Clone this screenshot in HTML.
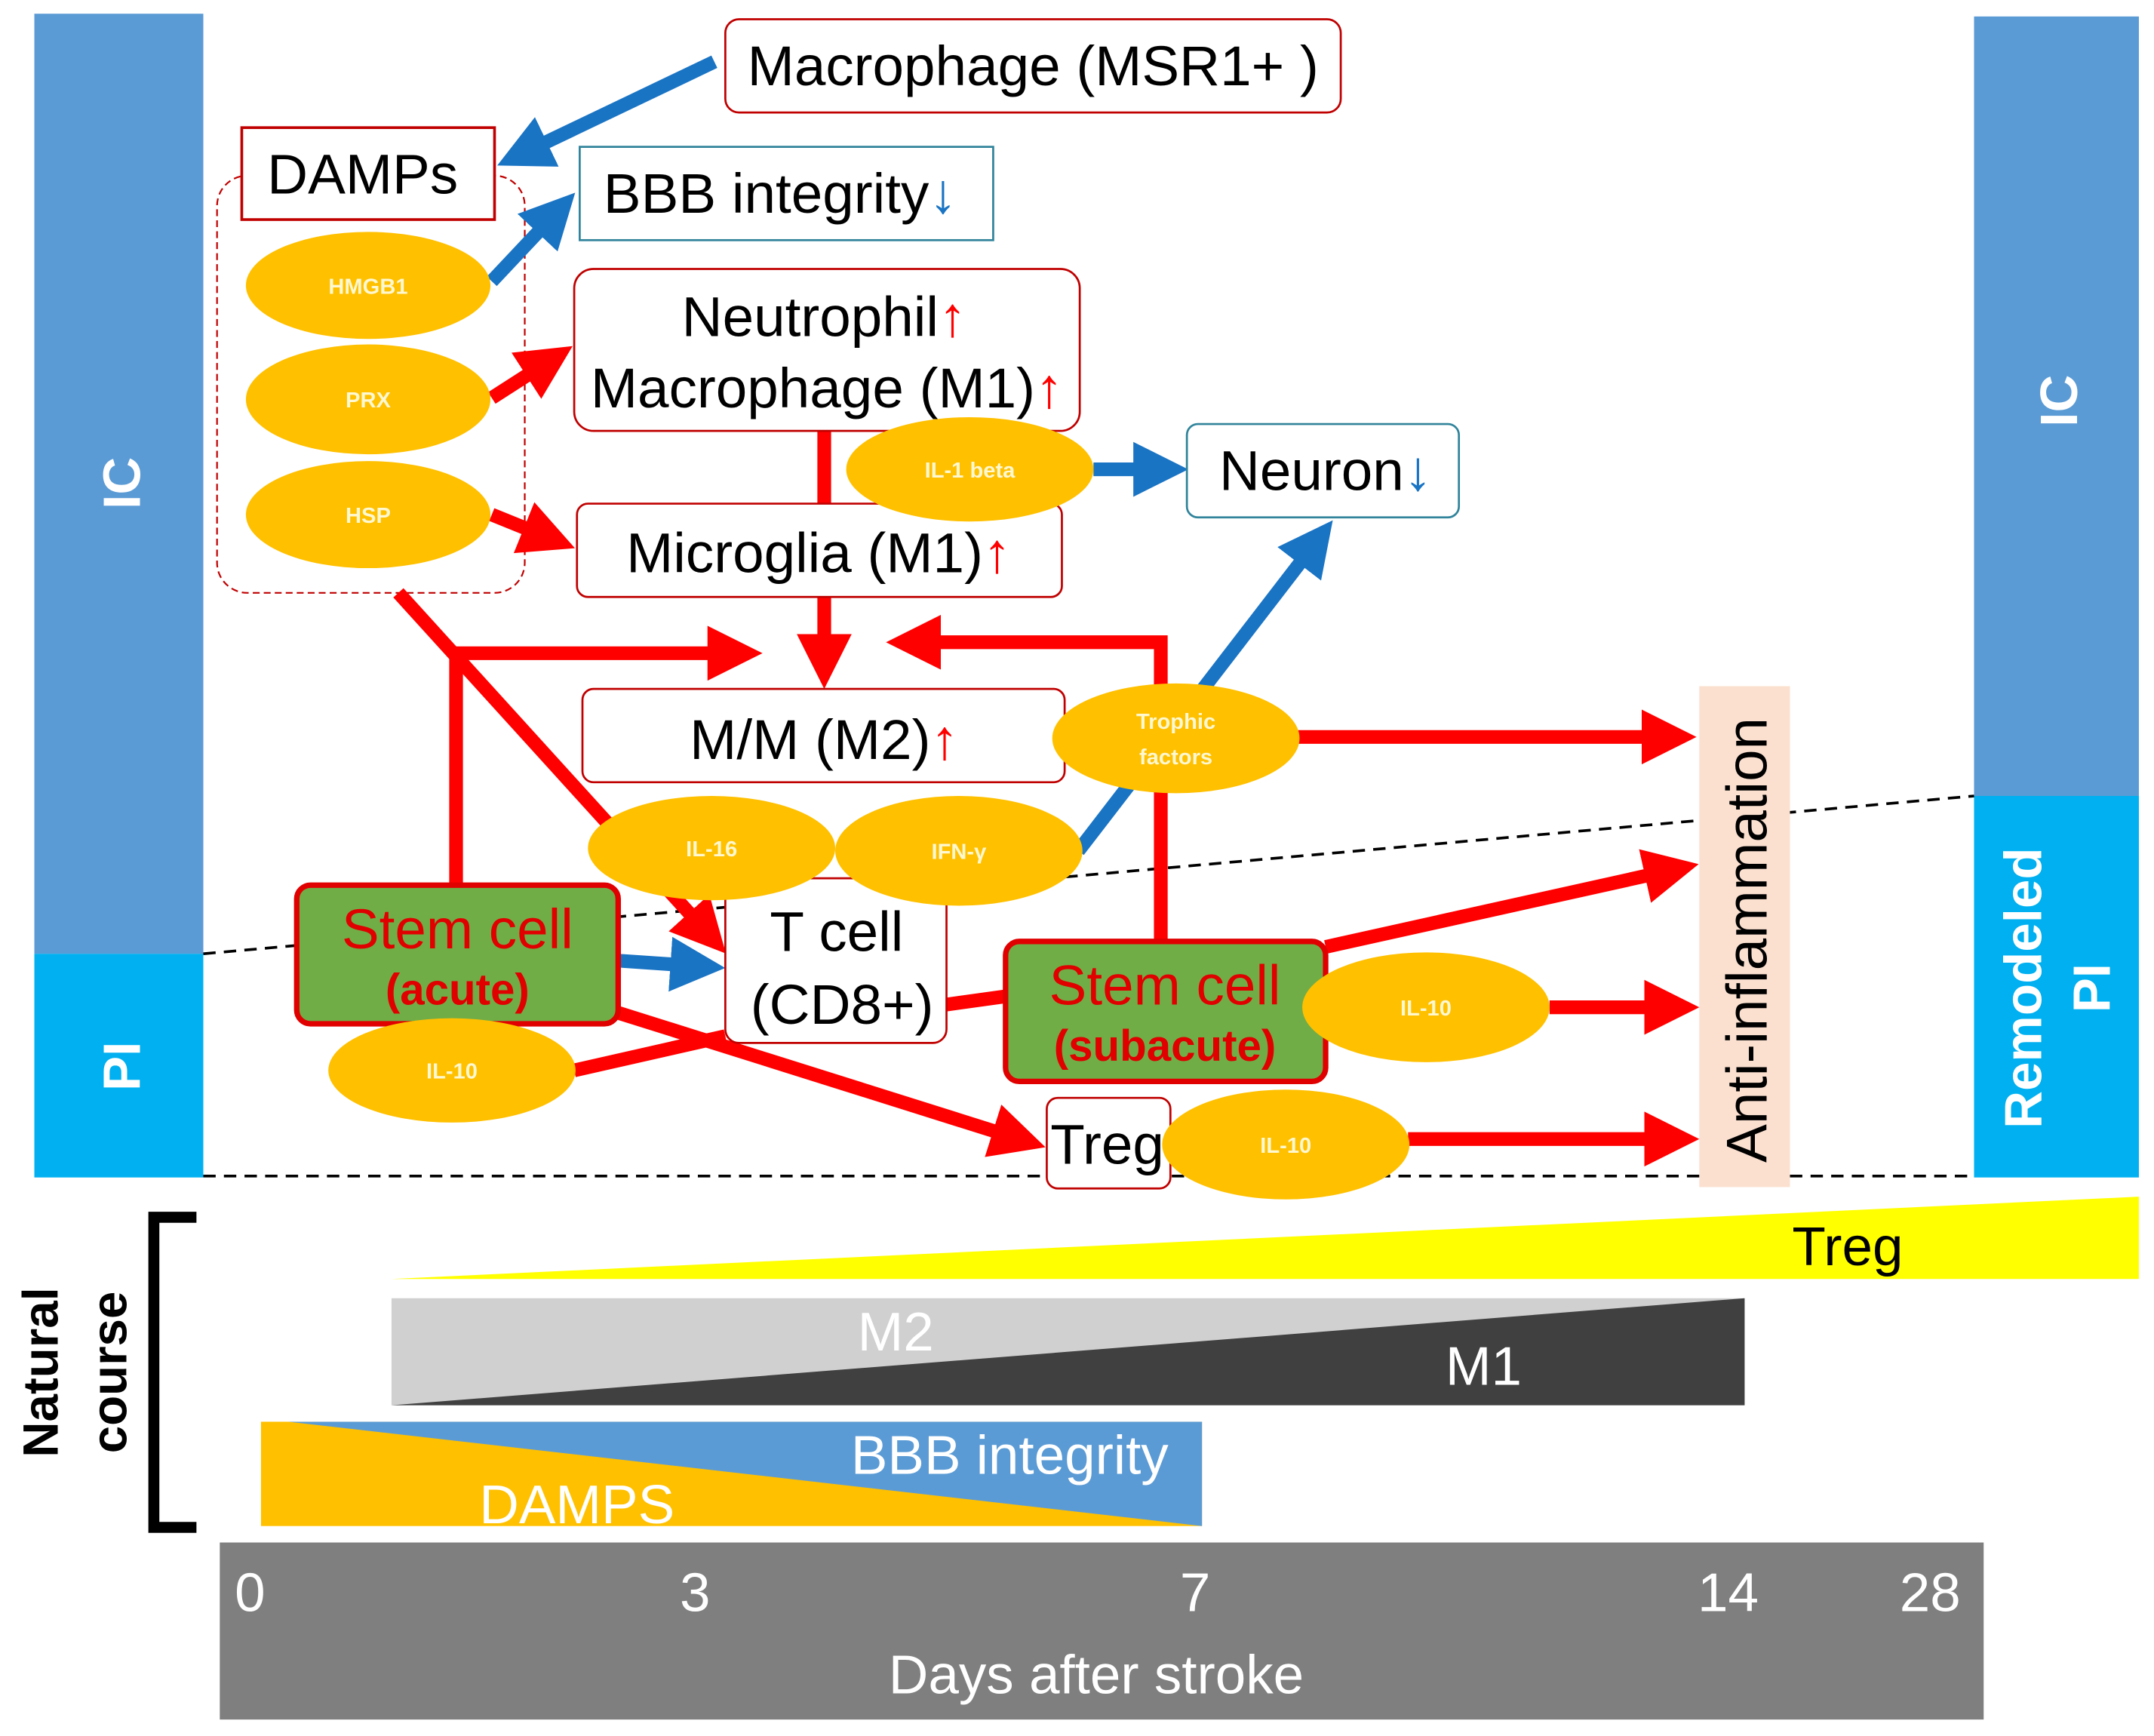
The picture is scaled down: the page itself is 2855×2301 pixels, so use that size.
<!DOCTYPE html>
<html><head><meta charset="utf-8"><style>html,body{margin:0;padding:0;background:#fff}svg{display:block}</style></head>
<body>
<svg width="2855" height="2301" viewBox="0 0 1568 1265" preserveAspectRatio="none" xmlns="http://www.w3.org/2000/svg" font-family="Liberation Sans, sans-serif">
<defs>
<marker id="rh" markerWidth="4" markerHeight="4" refX="2" refY="2" orient="auto" markerUnits="strokeWidth"><path d="M0,0 L4,2 L0,4 z" fill="#ff0000"/></marker>
<marker id="bh" markerWidth="4" markerHeight="4" refX="2" refY="2" orient="auto" markerUnits="strokeWidth"><path d="M0,0 L4,2 L0,4 z" fill="#1a74c4"/></marker>
</defs>
<rect x="25" y="10" width="123" height="685" fill="#5b9bd5"/>
<rect x="25" y="695" width="123" height="163" fill="#00b0f0"/>
<rect x="1437" y="12" width="120" height="568" fill="#5b9bd5"/>
<rect x="1437" y="580" width="120" height="278" fill="#00b0f0"/>
<text transform="translate(102,352) rotate(-90)" fill="#fff" font-size="38" font-weight="bold" text-anchor="middle">IC</text>
<text transform="translate(102,777) rotate(-90)" fill="#fff" font-size="38" font-weight="bold" text-anchor="middle">PI</text>
<text transform="translate(1512,292) rotate(-90)" fill="#fff" font-size="38" font-weight="bold" text-anchor="middle">IC</text>
<text transform="translate(1486,720) rotate(-90)" fill="#fff" font-size="38" font-weight="bold" text-anchor="middle">Remodeled</text>
<text transform="translate(1536,720) rotate(-90)" fill="#fff" font-size="38" font-weight="bold" text-anchor="middle">PI</text>
<line x1="148" y1="857" x2="1437" y2="857" stroke="#000" stroke-width="2" stroke-dasharray="9,6"/>
<line x1="148" y1="695" x2="1437" y2="580" stroke="#000" stroke-width="2" stroke-dasharray="9,6"/>
<rect x="158" y="128" width="224" height="304" rx="22" fill="none" stroke="#c00000" stroke-width="1.2" stroke-dasharray="5,3"/>
<rect x="1237" y="500" width="66" height="365" fill="#fbe0d0"/>
<text transform="translate(1286,685) rotate(-90)" font-size="42" text-anchor="middle">Anti-inflammation</text>
<g stroke="#ff0000" stroke-width="10" fill="none">
<line x1="600" y1="314" x2="600" y2="367"/>
<line x1="600" y1="435" x2="600" y2="482" marker-end="url(#rh)"/>
<line x1="290" y1="432" x2="515" y2="680" marker-end="url(#rh)"/>
<polyline points="332,645 332,476 535,476" marker-end="url(#rh)"/>
<polyline points="845,690 845,468 665,468" marker-end="url(#rh)"/>
<line x1="945" y1="537" x2="1215" y2="537" marker-end="url(#rh)"/>
<line x1="450" y1="738" x2="742" y2="830" marker-end="url(#rh)"/>
<polyline points="418,780 528,755"/>
<line x1="689" y1="732" x2="732" y2="726"/>
<line x1="965" y1="690" x2="1217" y2="634" marker-end="url(#rh)"/>
<line x1="1128" y1="734" x2="1217" y2="734" marker-end="url(#rh)"/>
<line x1="1025" y1="830" x2="1217" y2="830" marker-end="url(#rh)"/>
<line x1="358" y1="290" x2="400" y2="263" marker-end="url(#rh)"/>
<line x1="358" y1="375" x2="400" y2="392" marker-end="url(#rh)"/>
</g>
<g stroke="#1a74c4" stroke-width="10" fill="none">
<line x1="520" y1="45" x2="380" y2="112" marker-end="url(#bh)"/>
<line x1="358" y1="205" x2="405" y2="155" marker-end="url(#bh)"/>
<line x1="796" y1="342" x2="845" y2="342" marker-end="url(#bh)"/>
<line x1="785" y1="620" x2="958" y2="395" marker-end="url(#bh)"/>
<line x1="450" y1="700" x2="508" y2="704" marker-end="url(#bh)"/>
</g>
<g fill="#fff" stroke-width="1.5">
<rect x="528" y="14" width="448" height="68" rx="10" stroke="#c00000"/>
<rect x="176" y="93" width="184" height="67" stroke="#c00000" stroke-width="2"/>
<rect x="422" y="107" width="301" height="68" stroke="#31849b"/>
<rect x="418" y="196" width="368" height="118" rx="14" stroke="#c00000"/>
<rect x="420" y="367" width="353" height="68" rx="8" stroke="#c00000"/>
<rect x="864" y="309" width="198" height="68" rx="8" stroke="#31849b"/>
<rect x="424" y="502" width="351" height="68" rx="8" stroke="#c00000"/>
<rect x="528" y="640" width="161" height="120" rx="10" stroke="#c00000"/>
<rect x="762" y="800" width="90" height="66" rx="8" stroke="#c00000"/>
</g>
<rect x="216" y="645" width="234" height="101" rx="10" fill="#70ad47" stroke="#e00000" stroke-width="4"/>
<rect x="732" y="686" width="233" height="102" rx="10" fill="#70ad47" stroke="#e00000" stroke-width="4"/>
<g font-size="41" text-anchor="middle">
<text x="752" y="62">Macrophage (MSR1+ )</text>
<text x="264" y="141">DAMPs</text>
<text x="568" y="155">BBB integrity<tspan fill="#1a74c4">↓</tspan></text>
<text x="600" y="245">Neutrophil<tspan fill="#ff0000">↑</tspan></text>
<text x="602" y="297">Macrophage (M1)<tspan fill="#ff0000">↑</tspan></text>
<text x="596" y="417">Microglia (M1)<tspan fill="#ff0000">↑</tspan></text>
<text x="965" y="357">Neuron<tspan fill="#1a74c4">↓</tspan></text>
<text x="600" y="553">M/M (M2)<tspan fill="#ff0000">↑</tspan></text>
<text x="609" y="693">T cell</text>
<text x="613" y="746">(CD8+)</text>
<text x="806" y="848">Treg</text>
<text x="333" y="691" fill="#e00000">Stem cell</text>
<text x="848" y="732" fill="#e00000">Stem cell</text>
</g>
<text x="333" y="732" fill="#e00000" font-size="32" font-weight="bold" text-anchor="middle">(acute)</text>
<text x="848" y="773" fill="#e00000" font-size="32" font-weight="bold" text-anchor="middle">(subacute)</text>
<g fill="#ffc000">
<ellipse cx="268" cy="208" rx="89" ry="39"/>
<ellipse cx="268" cy="291" rx="89" ry="40"/>
<ellipse cx="268" cy="375" rx="89" ry="39"/>
<ellipse cx="706" cy="342" rx="90" ry="38"/>
<ellipse cx="856" cy="538" rx="90" ry="40"/>
<ellipse cx="518" cy="618" rx="90" ry="38"/>
<ellipse cx="698" cy="620" rx="90" ry="40"/>
<ellipse cx="329" cy="780" rx="90" ry="38"/>
<ellipse cx="1038" cy="734" rx="90" ry="40"/>
<ellipse cx="936" cy="834" rx="90" ry="40"/>
</g>
<g fill="#fff8d0" font-size="16" font-weight="bold" text-anchor="middle">
<text x="268" y="214">HMGB1</text>
<text x="268" y="297">PRX</text>
<text x="268" y="381">HSP</text>
<text x="706" y="348">IL-1 beta</text>
<text x="856" y="531">Trophic</text>
<text x="856" y="557">factors</text>
<text x="518" y="624">IL-16</text>
<text x="698" y="626">IFN-γ</text>
<text x="329" y="786">IL-10</text>
<text x="1038" y="740">IL-10</text>
<text x="936" y="840">IL-10</text>
</g>
<polygon points="285,932 1557,872 1557,932" fill="#ffff00"/>
<text x="1345" y="922" font-size="40" text-anchor="middle">Treg</text>
<rect x="285" y="946" width="985" height="78" fill="#d0d0d0"/>
<polygon points="285,1024 1270,946 1270,1024" fill="#404040"/>
<text x="652" y="984" font-size="40" fill="#fff" text-anchor="middle">M2</text>
<text x="1080" y="1009" font-size="40" fill="#fff" text-anchor="middle">M1</text>
<rect x="190" y="1036" width="685" height="76" fill="#ffc000"/>
<polygon points="210,1036 875,1036 875,1112" fill="#5b9bd5"/>
<text x="735" y="1074" font-size="40" fill="#fff" text-anchor="middle">BBB integrity</text>
<text x="420" y="1110" font-size="40" fill="#fff" text-anchor="middle">DAMPS</text>
<path d="M143,887 L112,887 L112,1113 L143,1113" fill="none" stroke="#000" stroke-width="8"/>
<text transform="translate(42,1000) rotate(-90)" font-size="36" font-weight="bold" text-anchor="middle">Natural</text>
<text transform="translate(92,1000) rotate(-90)" font-size="36" font-weight="bold" text-anchor="middle">course</text>
<rect x="160" y="1124" width="1284" height="129" fill="#7f7f7f"/>
<g fill="#fff" font-size="40" text-anchor="middle">
<text x="182" y="1174">0</text>
<text x="506" y="1174">3</text>
<text x="870" y="1174">7</text>
<text x="1258" y="1174">14</text>
<text x="1405" y="1174">28</text>
<text x="798" y="1234">Days after stroke</text>
</g>
</svg>
</body></html>
